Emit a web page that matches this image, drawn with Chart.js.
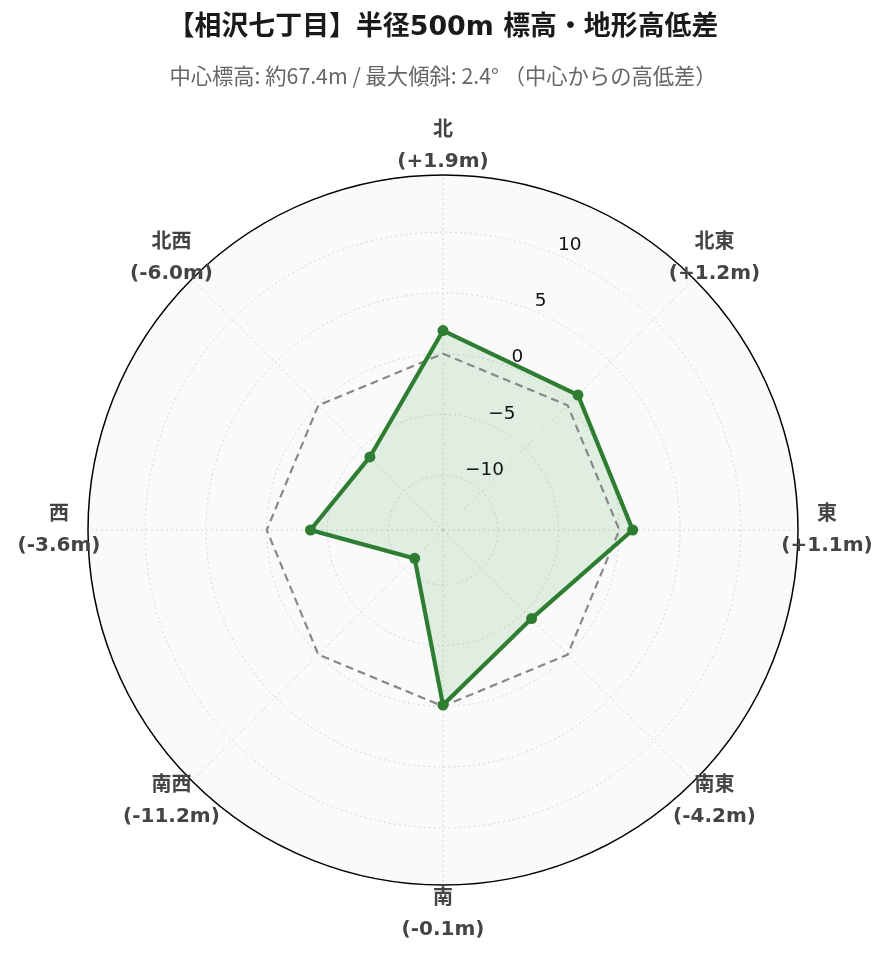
<!DOCTYPE html>
<html>
<head>
<meta charset="utf-8">
<script src="https://cdn.jsdelivr.net/npm/chart.js@4/dist/chart.umd.min.js"></script>
<style>
  html, body { margin: 0; padding: 0; background: #ffffff; }
  #wrap { width: 889px; height: 962px; position: relative; }
</style>
</head>
<body>
<div id="wrap"><canvas id="c"></canvas></div>
<script>
// ---- data ----
const directions = ['北', '北東', '東', '南東', '南', '南西', '西', '北西'];
const elevationDiff = [1.9, 1.2, 1.1, -4.2, -0.1, -11.2, -3.6, -6.0];
const zeroLine = [0, 0, 0, 0, 0, 0, 0, 0];
const tickValues = [-10, -5, 0, 5, 10];
const radialMin = -14.5;
const radialMax = 14.7;
const titleText = '【相沢七丁目】半径500m 標高・地形高低差';
const subtitleText = '中心標高: 約67.4m / 最大傾斜: 2.4° （中心からの高低差）';

function fmtDiff(v) {
  return '(' + (v >= 0 ? '+' : '-') + Math.abs(v).toFixed(1) + 'm)';
}
function fmtTick(v) {
  return v < 0 ? '\u2212' + Math.abs(v) : String(v);
}

const FONT = '"DejaVu Sans", "Noto Sans CJK JP", sans-serif';
const SUBFONT = '"Noto Sans CJK JP", sans-serif';

const labelPlugin = {
  id: 'dirLabels',
  afterDraw(chart) {
    const s = chart.scales.r;
    const ctx = chart.ctx;
    ctx.save();
    // radial tick labels along 22.5 degrees
    ctx.font = '18.5px ' + FONT;
    ctx.fillStyle = '#111';
    ctx.textAlign = 'left';
    ctx.textBaseline = 'middle';
    const ang = -Math.PI / 2 + Math.PI / 8;
    tickValues.forEach(v => {
      const d = s.getDistanceFromCenterForValue(v);
      const x = s.xCenter + Math.cos(ang) * d;
      const y = s.yCenter + Math.sin(ang) * d;
      ctx.fillText(fmtTick(v), x + 1, y - 9.5);
    });
    // direction labels
    ctx.font = 'bold 20px ' + FONT;
    ctx.fillStyle = '#444';
    ctx.textAlign = 'center';
    directions.forEach((name, i) => {
      const p = s.getPointPosition(i, s.drawingArea + 29);
      ctx.fillText(name, p.x, p.y - 15.5);
      ctx.fillText(fmtDiff(elevationDiff[i]), p.x, p.y + 15.5);
    });
    ctx.restore();
  }
};

new Chart(document.getElementById('c'), {
  type: 'radar',
  data: {
    labels: directions,
    datasets: [
      {
        label: '高低差',
        data: elevationDiff,
        borderColor: '#2e7d32',
        borderWidth: 4.2,
        backgroundColor: 'rgba(76,175,80,0.15)',
        fill: 'start',
        pointRadius: 5.5,
        pointBackgroundColor: '#2e7d32',
        pointBorderWidth: 0,
        tension: 0
      },
      {
        label: '基準',
        data: zeroLine,
        borderColor: '#888888',
        borderWidth: 2.2,
        borderDash: [8, 5],
        fill: false,
        pointRadius: 0,
        tension: 0
      }
    ]
  },
  options: {
    responsive: true,
    maintainAspectRatio: false,
    animation: false,
    events: [],
    layout: { padding: { left: 87, right: 90, top: 0, bottom: 76 } },
    plugins: {
      legend: { display: false },
      tooltip: { enabled: false },
      filler: { drawTime: 'beforeDatasetsDraw' },
      title: {
        display: true,
        text: titleText,
        color: '#1a1a1a',
        font: { family: FONT, size: 26.9, weight: 'bold', lineHeight: 1.2 },
        padding: { top: 11.9, bottom: 0 }
      },
      subtitle: {
        display: true,
        text: subtitleText,
        color: '#666',
        font: { family: SUBFONT, size: 21.3, weight: 'normal', lineHeight: 1.2 },
        padding: { top: 19.3, bottom: 85.2 }
      }
    },
    scales: {
      r: {
        min: radialMin,
        max: radialMax,
        backgroundColor: '#fafafa',
        afterBuildTicks: (scale) => {
          scale.ticks = [radialMin].concat(tickValues, [radialMax]).map(v => ({ value: v }));
        },
        grid: {
          circular: true,
          color: (c) => c.tick && c.tick.value === radialMax ? '#000000'
                     : (c.tick && c.tick.value === radialMin ? 'rgba(0,0,0,0)' : '#d4d4d4'),
          lineWidth: (c) => c.tick && c.tick.value === radialMax ? 1.5 : 1
        },
        border: {
          dash: (c) => c.tick && c.tick.value === radialMax ? [] : [2, 3]
        },
        angleLines: {
          display: true,
          color: '#d4d4d4',
          lineWidth: 1,
          borderDash: [2, 3]
        },
        ticks: { display: false },
        pointLabels: { display: false }
      }
    }
  },
  plugins: [labelPlugin]
});
</script>
</body>
</html>
